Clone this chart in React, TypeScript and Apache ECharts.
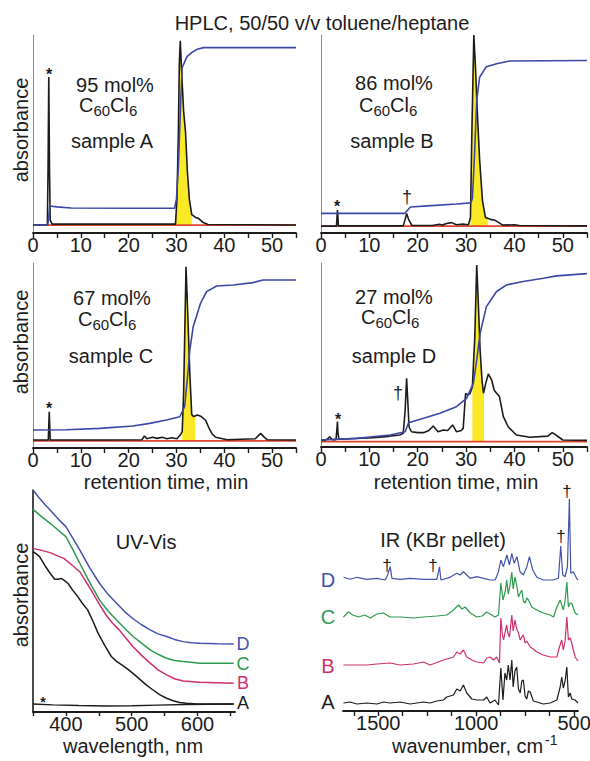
import React, { useEffect, useRef } from 'react';
import * as echarts from 'echarts';

const FONT = '"Liberation Sans", Arial, Helvetica, sans-serif';
const INK = '#1c1c1c';
const BLUE = '#3b47a6';
const RED = '#e2432d';
const YELLOW = '#fbe925';
const UV_D = '#4452ad';
const UV_C = '#2f9a4f';
const UV_B = '#cf2f6e';

// ---------- HPLC ----------
const hplcTickLabels = ['0', '10', '20', '30', '40', '50'];

const aBlack = [[0,0.5],[3.0,0.5],[3.15,30],[3.3,78],[3.45,30],[3.6,3],[4,1],[29.8,1],[30.1,14],[30.4,49],[30.6,85],[30.8,97],[31.1,80],[31.5,60],[31.9,49],[32.3,28],[32.7,14],[33.2,6],[34.0,4.5],[34.6,4],[35.5,2],[36.6,0.8],[55,0.5]];
const aYellow = [[29.8,1],[30.1,14],[30.4,49],[30.6,85],[30.8,97],[31.1,80],[31.5,60],[31.9,49],[32.3,28],[32.7,14],[33.2,6]];
const aBlue = [[0,0.5],[3.1,0.5],[3.3,5],[3.5,10.5],[5,10],[8,9.4],[20,9.3],[29.6,9.3],[30.0,14],[30.4,31],[30.9,66],[31.2,83],[32.2,88.7],[33.3,91],[34.3,92.5],[35.7,93.4],[55,93.4]];
const aRed = [[0,0.5],[55,0.5]];

const bBlack = [[0,0.5],[3.2,0.5],[3.3,5],[3.4,8.9],[3.5,5],[3.6,0.6],[17.0,0.6],[17.4,4],[17.7,7.1],[18.1,4],[18.8,0.8],[23,0.8],[24.5,1.5],[25,1],[26,1.8],[27,2.3],[28,1.2],[29.3,1.5],[30.5,1.2],[30.9,5],[31.2,50],[31.6,100],[32.0,80],[32.3,61],[32.8,35],[33.4,13.5],[34,5],[35,4],[36,3.5],[37.6,1],[40,1.2],[41,0.8],[55,0.6]];
const bYellow = [[30.9,5],[31.2,50],[31.6,100],[32.0,80],[32.3,61],[32.8,35],[33.4,13.5],[34,5],[34.5,4.2]];
const bBlue = [[0,7.1],[17.3,7.1],[17.8,8.5],[18.5,10.4],[22,11],[28,12],[31.0,12.6],[31.3,15],[31.7,35],[32.2,66],[32.8,78],[34.2,83.5],[36.3,85],[39,86.5],[55,86.7]];
const bRed = [[0,0.5],[55,0.5]];

const cBlack = [[0,4.3],[3.2,4.3],[3.3,12],[3.4,19.6],[3.5,12],[3.6,4.3],[15,4.3],[22.8,4.5],[23.3,6.5],[23.8,5],[25,5.8],[26,5.2],[27,5.8],[28,5],[29,5.5],[30.1,5],[30.8,7],[31.2,8.8],[31.5,30],[32.0,98],[32.4,70],[32.8,40],[33.2,18],[33.6,17],[34.4,17.8],[35.2,17],[36.1,15],[36.8,10.8],[37.5,7.5],[38.2,5.8],[40.6,4.5],[46.5,5],[47.6,7.9],[48.5,5.5],[49,4.5],[55,4.3]];
const cYellow = [[31.2,8.8],[31.5,30],[32.0,98],[32.4,70],[32.8,40],[33.2,18],[33.6,17],[33.9,17.3]];
const cBlue = [[0,9.7],[7,9.9],[13.9,10.6],[20.9,11.9],[24.4,13.3],[27.9,15.1],[30.7,16.9],[31.7,22.3],[32.3,38],[32.8,53],[33.5,65.6],[35,78],[36.3,84.5],[38.4,87.6],[41.9,88.1],[46,89.4],[48.1,90.8],[55,90.8]];
const cRed = [[0,3.9],[55,3.9]];

const dBlack = [[0,3.8],[0.8,3.6],[1.4,4.5],[1.8,5.6],[2.3,4],[3.1,4],[3.3,10],[3.4,13.8],[3.5,8],[3.7,4.2],[6,4.5],[10.8,5.1],[14,5.8],[16.3,6.5],[17,7.4],[17.4,20],[17.7,37.3],[18.0,22],[18.2,11],[18.7,8.3],[20,7.8],[21.2,7.8],[22.3,9],[23.2,11.4],[24.2,8.3],[25.3,9.2],[26.2,9],[27.2,12],[28,8.3],[29.0,9],[29.4,10.1],[29.9,29.2],[30.2,28.4],[30.8,29],[31.3,32.8],[31.8,60],[32.2,98.9],[32.5,80],[32.9,52.7],[33.3,36],[33.6,29.2],[34.1,35],[34.6,39.7],[35.3,36.4],[35.8,31],[36.3,29.2],[36.9,27.4],[37.7,16.5],[38.7,11],[40.4,6.5],[43.2,5.3],[46.9,5.9],[47.8,7.8],[48.6,6.5],[50,3.8],[55,3.6]];
const dYellow = [[31.3,32.8],[31.8,60],[32.2,98.9],[32.5,80],[32.9,52.7],[33.3,36],[33.6,29.2],[33.7,30]];
const dBlue = [[0,3.8],[7.4,4.7],[14.3,6.5],[17.4,8.3],[18.1,13.2],[21.2,15.6],[24.6,18.3],[28,21.9],[30.1,26.4],[31.5,34.6],[32.2,47.3],[32.9,61.8],[34.2,76.3],[36.3,84.5],[38.4,88.1],[41.8,89.9],[46,91.7],[48.7,93],[55,94.2]];
const dRed = [[0,2.9],[55,2.9]];

// ---------- UV-Vis ----------
const uvTickLabels = ['400', '500', '600'];
const uvD = [[350,100],[358,97],[368,93.5],[376,91],[388,87],[400,83.5],[410,78.5],[421,73],[436,65],[451,58],[464,53],[477,49],[490,45],[502,42],[515,39.3],[528,37],[540,35.2],[553,34],[565,32.7],[578,31.7],[591,31.2],[604,31],[630,30.7],[655,30.6]];
const uvC = [[350,91.3],[363,88],[376,85],[388,82],[400,79],[410,73.5],[421,67],[436,58.5],[451,50.5],[464,45.5],[477,41.4],[490,37.5],[502,34],[515,31],[528,28],[540,26],[553,24.2],[565,23.2],[578,22.7],[604,22],[655,22]];
const uvB = [[350,73.7],[363,72.8],[376,71.8],[390,70],[397,69.2],[410,66],[421,63.2],[431,58.5],[441,53.6],[451,48.5],[461,43.7],[471,40],[481,37],[492,33],[502,29.4],[515,25.5],[528,22],[540,19],[553,16.7],[565,15],[578,14],[604,13.4],[655,13]];
const uvA = [[350,72.2],[355,71.2],[360,70],[368,66],[376,62.5],[383,59.8],[388,59.8],[393,60.2],[398,59.2],[403,58],[410,55],[418,52],[425,49],[433,46],[441,41],[449,35.4],[459,30],[469,25],[477,22.8],[485,21.2],[493,19.5],[502,17.4],[512,14.8],[522,12.2],[533,9.8],[543,7.7],[553,6.2],[563,5.1],[573,4.3],[583,3.9],[600,3.6],[655,3.6]];
const uvSolvent = [[350,3.6],[380,3.2],[420,2.9],[460,2.7],[500,2.8],[540,3.1],[580,3.4],[655,3.6]];

// ---------- IR ----------
const irTickLabels = ['500', '1000', '1500'];
const irA = [[1678,8],[1644,9],[1609,7],[1558,8],[1507,7],[1473,9],[1440,8],[1388,9],[1337,7],[1269,9],[1235,8],[1201,10],[1167,11],[1150,14],[1116,16],[1099,22],[1082,20],[1065,26],[1048,18],[1022,12],[997,11],[962,11],[946,14],[929,8],[904,11],[886,6],[874,43],[863,11],[853,38],[844,31],[836,46],[827,31],[818,51],[811,24],[802,40],[793,44],[784,22],[775,18],[767,30],[759,31],[750,15],[742,12],[733,20],[724,19],[708,10],[691,9],[657,7],[622,8],[588,11],[571,24],[563,34],[555,23],[546,30],[537,44],[529,14],[520,18],[512,12],[495,11],[480,8]];
const irB = [[1678,46],[1560,46],[1507,47],[1440,48],[1388,46],[1320,47],[1269,49],[1235,46],[1167,51],[1116,54],[1099,59],[1082,57],[1065,61],[1048,54],[1022,51],[997,49],[962,48],[946,53],[929,54],[912,51],[895,54],[881,48],[874,93],[867,78],[860,71],[851,80],[844,86],[838,78],[830,74],[818,96],[811,80],[802,91],[793,82],[784,78],[775,71],[767,74],[759,76],[750,68],[742,70],[724,64],[708,62],[691,59],[657,56],[622,54],[588,54],[575,64],[563,71],[555,61],[546,70],[537,94],[529,71],[520,73],[512,68],[495,54],[480,50]];
const irC = [[1678,94],[1652,99],[1630,96],[1600,94],[1570,96],[1540,93],[1507,97],[1473,98],[1440,94],[1388,94],[1320,93],[1269,94],[1201,95],[1150,96],[1116,101],[1090,106],[1073,102],[1056,104],[1030,98],[997,94],[970,95],[946,99],[929,97],[904,94],[886,96],[874,128],[863,111],[851,120],[844,131],[836,117],[827,126],[818,139],[811,122],[802,134],[793,126],[784,114],[775,118],[767,121],[759,110],[750,108],[742,113],[733,111],[716,104],[691,101],[657,98],[622,96],[605,94],[588,104],[571,111],[563,106],[555,101],[546,110],[537,129],[529,104],[520,108],[512,108],[495,98],[480,96]];
const irD = [[1677,133.7],[1643,131.7],[1609,133.7],[1558,131.7],[1507,132.7],[1464,131],[1452,136],[1439,144.3],[1430,132.7],[1388,131.7],[1337,132.7],[1269,131.7],[1201,131.7],[1192,139.3],[1187,144.3],[1180,131],[1133,133.7],[1099,137.7],[1082,136],[1065,139.3],[1031,132.7],[996,134.3],[963,132.7],[929,131],[903,131],[886,139.3],[874,151],[861,144.3],[843,156],[830,146],[818,157.7],[806,147.7],[792,154.3],[776,139.3],[759,136],[741,144.3],[728,154.3],[711,141],[690,133.7],[657,131],[606,131],[580,132.7],[568,165],[558,136],[546,134.3],[534,144],[524,212],[517,137.7],[504,139.3],[487,132.7],[480,131]];

function hplcX(gi: number) {
  return {
    type: 'value', gridIndex: gi, min: 0, max: 55, interval: 5,
    axisLine: { show: true, onZero: false, lineStyle: { color: INK, width: 1.8 } },
    axisTick: { show: true, length: 5, inside: false, lineStyle: { color: INK, width: 1.4 } },
    axisLabel: {
      margin: 2, fontSize: 20, fontFamily: FONT, color: INK, showMaxLabel: true,
      formatter: (v: number) => (hplcTickLabels.includes(String(v)) ? String(v) : ''),
    },
    splitLine: { show: false },
  };
}
function hplcY(gi: number, min: number) {
  return {
    type: 'value', gridIndex: gi, min, max: 100,
    axisLine: { show: true, onZero: false, lineStyle: { color: '#8a8a8a', width: 1 } },
    axisTick: { show: false }, axisLabel: { show: false }, splitLine: { show: false },
  };
}
function line(data: number[][], gi: number, color: string, width: number, z = 3) {
  return {
    type: 'line', xAxisIndex: gi, yAxisIndex: gi, data, symbol: 'none', showSymbol: false,
    lineStyle: { color, width }, itemStyle: { color }, z, silent: true,
  };
}
function fill(data: number[][], gi: number, origin: number) {
  return {
    type: 'line', xAxisIndex: gi, yAxisIndex: gi, data, symbol: 'none', showSymbol: false,
    lineStyle: { width: 0, color: YELLOW }, itemStyle: { color: YELLOW },
    areaStyle: { color: YELLOW, opacity: 1, origin }, z: 1, silent: true,
  };
}
function txt(x: number, y: number, text: string, o: any = {}) {
  return {
    type: 'text', x, y, rotation: o.rotation || 0, silent: true, z: 10,
    style: {
      text, fill: o.fill || INK, fontSize: o.size || 20, fontFamily: FONT,
      fontWeight: o.weight || 'normal', align: o.align || 'center', verticalAlign: 'middle',
    },
  };
}
// C60Cl6 with subscripts, built from plain text pieces
function formula(cx: number, cy: number) {
  const x0 = cx - 29;
  return [
    txt(x0, cy, 'C', { align: 'left' }),
    txt(x0 + 14.4, cy + 5, '60', { align: 'left', size: 15 }),
    txt(x0 + 31.1, cy, 'Cl', { align: 'left' }),
    txt(x0 + 50.1, cy + 5, '6', { align: 'left', size: 15 }),
  ];
}
function grid(left: number, top: number, width: number, height: number) {
  return { left, top, width, height, containLabel: false, outerBoundsMode: 'none' };
}

export default function App() {
  const ref = useRef<HTMLDivElement>(null);
  useEffect(() => {
    if (!ref.current) return;
    const chart = echarts.init(ref.current, undefined, { renderer: 'svg' });
    const irX = {
      type: 'value', gridIndex: 5, min: 480, max: 1680, inverse: true,
      axisLine: { show: true, onZero: false, lineStyle: { color: INK, width: 1.8 } },
      axisTick: { show: false }, axisLabel: { show: false }, splitLine: { show: false },
    };
    // tick/label axis for the IR panel: same scale, extent starts at a multiple of the interval
    const irTickX = {
      type: 'value', gridIndex: 6, min: 375, max: 1680, inverse: true, interval: 125,
      axisLine: { show: false, onZero: false },
      axisTick: { show: true, length: 5, lineStyle: { color: INK, width: 1.4 } },
      axisLabel: {
        margin: 2, fontSize: 20, fontFamily: FONT, color: INK, showMinLabel: true, showMaxLabel: false,
        formatter: (v: number) => (irTickLabels.includes(String(v)) ? String(v) : ''),
      },
      splitLine: { show: false },
    };
    const uvX = {
      type: 'value', gridIndex: 4, min: 350, max: 657, interval: 50,
      axisLine: { show: true, onZero: false, lineStyle: { color: INK, width: 1.8 } },
      axisTick: { show: true, length: 4, lineStyle: { color: INK, width: 1.4 } },
      axisLabel: {
        margin: 2, fontSize: 20, fontFamily: FONT, color: INK, showMaxLabel: false,
        formatter: (v: number) => (uvTickLabels.includes(String(v)) ? String(v) : ''),
      },
      splitLine: { show: false },
    };
    const option: any = {
      animation: false,
      backgroundColor: '#ffffff',
      grid: [
        grid(33, 35, 263, 198),
        grid(321, 35, 266, 198),
        grid(33, 263, 263, 185),
        grid(321, 263, 266, 184),
        grid(33, 490, 202, 222),
        grid(343, 470, 235, 241),
        grid(343, 470, 255.6, 241),
      ],
      xAxis: [hplcX(0), hplcX(1), hplcX(2), hplcX(3), uvX, irX, irTickX],
      yAxis: [
        hplcY(0, -3.66), hplcY(1, -3.1), hplcY(2, 0), hplcY(3, 0),
        {
          type: 'value', gridIndex: 4, min: 0, max: 100,
          axisLine: { show: true, onZero: false, lineStyle: { color: INK, width: 1.6 } },
          axisTick: { show: false }, axisLabel: { show: false }, splitLine: { show: false },
        },
        { type: 'value', gridIndex: 5, min: 0, max: 241, show: false },
        { type: 'value', gridIndex: 6, min: 0, max: 1, show: false },
      ],
      series: [
        fill(aYellow, 0, 0.5), line(aRed, 0, RED, 1.8, 2), line(aBlack, 0, INK, 1.6, 3), line(aBlue, 0, BLUE, 1.6, 4),
        fill(bYellow, 1, 0.5), line(bRed, 1, RED, 1.8, 2), line(bBlack, 1, INK, 1.6, 3), line(bBlue, 1, BLUE, 1.6, 4),
        fill(cYellow, 2, 3.9), line(cRed, 2, RED, 1.8, 2), line(cBlack, 2, INK, 1.6, 3), line(cBlue, 2, BLUE, 1.6, 4),
        fill(dYellow, 3, 2.9), line(dRed, 3, RED, 1.8, 2), line(dBlack, 3, INK, 1.6, 3), line(dBlue, 3, BLUE, 1.6, 4),
        line(uvSolvent, 4, INK, 1.4), line(uvA, 4, INK, 1.5), line(uvB, 4, UV_B, 1.5), line(uvC, 4, UV_C, 1.5), line(uvD, 4, UV_D, 1.5),
        line(irA, 5, INK, 1.2), line(irB, 5, UV_B, 1.2), line(irC, 5, UV_C, 1.2), line(irD, 5, UV_D, 1.2),
      ],
      graphic: [
        txt(322, 23, 'HPLC, 50/50 v/v toluene/heptane'),
        txt(21, 130, 'absorbance', { rotation: Math.PI / 2 }),
        txt(21, 342, 'absorbance', { rotation: Math.PI / 2 }),
        txt(21, 595, 'absorbance', { rotation: Math.PI / 2 }),
        txt(115, 85, '95 mol%'), ...formula(108, 105), txt(112, 141, 'sample A'),
        txt(394, 83, '86 mol%'), ...formula(388, 105), txt(392, 141, 'sample B'),
        txt(112, 298, '67 mol%'), ...formula(107, 319), txt(111, 356, 'sample C'),
        txt(394, 297, '27 mol%'), ...formula(390, 317), txt(394, 356, 'sample D'),
        txt(49, 74, '*', { size: 16, weight: 'bold' }),
        txt(337, 206, '*', { size: 16, weight: 'bold' }),
        txt(407, 197, '†', { size: 18 }),
        txt(49, 408, '*', { size: 16, weight: 'bold' }),
        txt(338, 419, '*', { size: 16, weight: 'bold' }),
        txt(398, 393, '†', { size: 18 }),
        txt(166, 482, 'retention time, min'),
        txt(456, 482, 'retention time, min'),
        txt(146, 542, 'UV-Vis'),
        txt(443, 540, 'IR (KBr pellet)'),
        txt(243, 644, 'D', { fill: UV_D, size: 18 }),
        txt(243, 663.5, 'C', { fill: UV_C, size: 18 }),
        txt(243, 683, 'B', { fill: UV_B, size: 18 }),
        txt(243, 703, 'A', { size: 18 }),
        txt(43, 702, '*', { size: 14, weight: 'bold' }),
        txt(133, 746, 'wavelength, nm'),
        txt(392, 746, 'wavenumber, cm', { align: 'left' }),
        txt(545, 740, '-1', { align: 'left', size: 14 }),
        txt(328, 580, 'D', { fill: UV_D }),
        txt(328, 617, 'C', { fill: UV_C }),
        txt(328, 666, 'B', { fill: UV_B }),
        txt(328, 702, 'A'),
        txt(387, 565, '†', { size: 17 }),
        txt(433, 565, '†', { size: 17 }),
        txt(561, 536, '†', { size: 17 }),
        txt(567, 491, '†', { size: 17 }),
      ],
    };
    chart.setOption(option);
    return () => chart.dispose();
  }, []);
  return <div ref={ref} style={{ position: 'absolute', left: 0, top: 0, width: 590, height: 761 }} />;
}
